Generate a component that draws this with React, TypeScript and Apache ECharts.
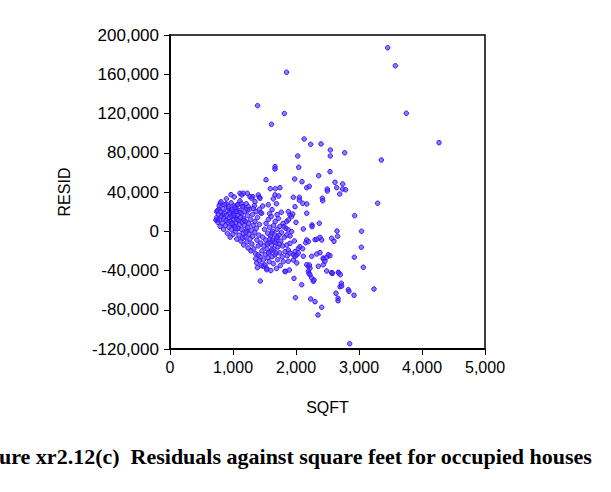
import React, { useEffect, useRef } from "react";
import * as echarts from "echarts";

const xAxisTitle = "SQFT";
const yAxisTitle = "RESID";
const caption = "ure xr2.12(c)  Residuals against square feet for occupied houses";

// [sqft, residual]
const outlierPoints: number[][] = [
  [1850, 162000], [1390, 128000], [1815, 120000], [1610, 109000], [2130, 94000],
  [2233, 88600], [2397, 89000], [2545, 82800], [2545, 76700], [2773, 80000],
  [2027, 76700], [2043, 65200], [1667, 65800], [1667, 63500], [2540, 60700],
  [2360, 56600], [1524, 52500], [1979, 53300], [2095, 50500], [2619, 49900],
  [2741, 48200], [2170, 44400], [2211, 45800], [1746, 44400], [1672, 43400],
  [1592, 43400], [2646, 44400], [2497, 43000], [2497, 41000], [2741, 43000],
  [2788, 42300], [3455, 187000], [3577, 168700], [3751, 120200], [4270, 90300],
  [3355, 72600],
];

const leftClusterPoints: number[][] = [
  [968, 37300], [1111, 38700], [1138, 37000], [1164, 38700], [1227, 38700],
  [1270, 35200], [1313, 35200], [1402, 37000], [1418, 34600], [1296, 33600],
  [1429, 33600], [799, 28500], [889, 27800], [773, 22400], [836, 17300],
  [751, 11500], [741, 20000], [730, 11500], [926, 23400], [979, 20000],
  [1016, 25700], [1058, 21700], [1068, 26700], [1132, 28500], [1164, 25000],
  [1243, 25000], [1227, 21700], [1322, 23400], [1365, 20000], [1418, 22400],
  [1349, 30100], [1471, 25700], [1455, 18300],
  [740, 14000], [750, 21000], [760, 9000], [770, 17000], [780, 26000],
  [785, 12000], [795, 5000], [800, 20000], [810, 30000], [815, 15000],
  [830, 8000], [840, 23000], [850, 2000], [855, 13000], [865, 18000],
  [870, 27000], [880, 6000], [890, 11000], [895, 33000], [900, 16000],
  [910, -2000], [915, 21000], [920, 9000], [930, 25000], [935, 4000],
  [940, 14000], [950, 19000], [955, -6000], [960, 10000], [970, 29000],
  [975, 2000], [980, 15000], [990, 22000], [995, 7000], [1000, -3000],
  [1005, 12000], [1010, 18000], [1020, 35000], [1025, 5000], [1030, 24000],
  [1040, 0], [1045, 14000], [1050, 9000], [1055, 20000], [1060, -8000],
  [1070, 16000], [1075, 27000], [1080, 3000], [1090, 11000], [1095, -4000],
  [1100, 21000], [1105, 7000], [1110, 31000], [1120, 14000], [1125, -10000],
  [1130, 2000], [1140, 18000], [1145, 9000], [1150, 25000], [1160, -2000],
  [1165, 13000], [1170, -14000], [1180, 6000], [1185, 20000], [1190, -6000],
  [1200, 10000], [1210, 28000], [1215, 1000], [1220, -11000], [1230, 16000],
  [1235, 4000], [1240, -17000], [1250, 8000], [1255, -3000], [1260, 22000],
  [1270, -8000], [1280, 12000], [1285, -20000], [1290, 1000], [1300, -13000],
  [1310, 17000], [1315, -5000], [1320, 6000], [1330, -18000], [1340, 26000],
  [1345, -1000], [1350, 10000], [1360, -23000], [1370, 3000], [1380, -9000],
  [1390, 14000], [1400, -15000], [1410, -4000], [1420, 7000], [1430, -26000],
  [1440, 19000], [1015, 16000], [1065, 12000], [985, 8000], [1115, 19000],
  [1175, 11000], [1035, 3000], [1155, -7000], [1205, -1000],
];

const centerClusterPoints: number[][] = [
  [1360, -28000], [1376, -32300], [1386, -37100], [1400, -24000], [1420, -30000],
  [1434, -50700], [1440, -12000], [1450, -35000], [1460, -20000], [1470, -6000],
  [1481, -29300], [1481, -35700], [1490, -15000], [1500, 2000], [1508, -34400],
  [1510, -24000], [1520, -9000], [1525, 8000], [1534, -37700], [1534, -39200],
  [1540, -18000], [1550, -2000], [1555, -27000], [1560, 12000], [1570, -12000],
  [1575, -31000], [1580, 4000], [1590, -21000], [1595, -5000], [1600, -40000],
  [1605, 15000], [1610, -14000], [1620, -26000], [1625, 0], [1630, -9000],
  [1640, -33000], [1645, 6000], [1650, -18000], [1660, -3000], [1665, -24000],
  [1670, 10000], [1680, -12000], [1690, -38000], [1695, -7000], [1700, 2000],
  [1710, -29000], [1715, -16000], [1720, 13000], [1730, -4000], [1740, -22000],
  [1745, 5000], [1750, -35000], [1760, -10000], [1767, 19400], [1770, -1000],
  [1780, -26000], [1790, -15000], [1795, 8000], [1800, -31000], [1809, 4700],
  [1815, -6000], [1825, -20800], [1825, -40800], [1831, -41200], [1841, 3000],
  [1852, -14000], [1852, -3800], [1852, 9800], [1860, -25000], [1878, 1300],
  [1878, -19100], [1878, -30600], [1878, 11500], [1878, 20000], [1894, -39500],
  [1905, -12300], [1905, -4800], [1905, -22200], [1905, 16600], [1931, -400],
  [1931, 14900], [1948, 17600], [1958, -29300], [1958, -23900], [1968, -48000],
  [1974, -9900], [1984, -20800], [1984, -25500], [1984, 25000], [1990, -67700],
  [2000, 9100], [2011, -24200], [2011, -32300], [2037, -17400], [2037, -22200],
  [2063, -15700], [2090, -54500], [2106, -17800], [2116, 2300], [2116, -25500],
  [2154, -11700], [2170, -8900], [2170, -34100], [2170, 18300], [2196, -10600],
  [2196, -40800], [2196, -36100], [2206, -42900], [2211, -34400], [2222, -37700],
  [2222, -44300], [2249, -47600], [2249, -25500], [2254, 6400], [2254, 4700],
  [2275, -51000], [2286, -49700], [2302, -8600], [2302, -71800], [2233, -69000],
  [2329, -8200], [2329, -23200], [2349, -85300], [2354, -35700], [2370, 8100],
  [2381, -6200], [2381, -21800], [2408, -8900], [2408, -77500], [2434, -27300],
  [2434, -34100], [2434, -28300], [2460, -30600], [2487, -26500], [2487, -40500],
  [2513, -23900], [2540, -24900], [2566, -42500], [2577, -42900], [2672, -41800],
  [2830, -59500], [2926, -26500],
  [1560, 27000], [1620, 22000], [1690, 28000], [1700, 17000], [1640, 33000],
  [1580, 18000], [1667, 37000], [1725, 35900], [1958, 34600], [2053, 34600],
  [2053, 31800], [2106, 28500], [2170, 27800], [2418, 33600], [2424, 31100],
  [2693, 37900], [1545, -13000], [1585, -8000], [1615, -19000], [1655, -11000],
  [1685, -22000], [1705, -6000], [1735, -13000], [1615, -2000], [1565, -22000],
];

const rightScatterPoints: number[][] = [
  [2651, 200], [2661, -5100], [2566, -7200], [2603, -10200], [3040, 0],
  [3037, -16300], [2931, 15900], [3296, 28500], [3069, -36700], [2571, -42200],
  [2678, -42500], [2704, -44300], [2720, -53000], [2699, -56500], [2725, -55800],
  [2841, -61200], [2635, -63200], [2921, -65200], [3238, -58900], [2667, -68400],
  [2667, -70800], [2852, -114600],
];

const xTicks = { min: 0, max: 5000, interval: 1000 };
const yTicks = { min: -120000, max: 200000, interval: 40000 };

export default function App() {
  const ref = useRef<HTMLDivElement>(null);
  useEffect(() => {
    if (!ref.current) return;
    const chart = echarts.init(ref.current, null, { renderer: "svg" });
    const data = [
      ...outlierPoints,
      ...leftClusterPoints,
      ...centerClusterPoints,
      ...rightScatterPoints,
    ];
    const fmt = (v: number) => v.toLocaleString("en-US");
    const font = "Liberation Sans, Arial, sans-serif";
    chart.setOption({
      animation: false,
      backgroundColor: "#fff",
      grid: {
        left: 170,
        top: 35,
        width: 315,
        height: 314,
        show: true,
        borderColor: "#000",
        borderWidth: 1.5,
        backgroundColor: "transparent",
      },
      xAxis: {
        type: "value",
        min: xTicks.min,
        max: xTicks.max,
        interval: xTicks.interval,
        name: xAxisTitle,
        nameLocation: "middle",
        nameGap: 50,
        nameTextStyle: { fontFamily: font, fontSize: 16, color: "#000" },
        axisLine: { show: true, onZero: false, lineStyle: { color: "#000", width: 1.8 } },
        axisTick: { show: true, inside: false, length: 6, lineStyle: { color: "#000", width: 1 } },
        axisLabel: { fontFamily: font, fontSize: 16, color: "#000", margin: 10, formatter: fmt },
        splitLine: { show: false },
      },
      yAxis: {
        type: "value",
        min: yTicks.min,
        max: yTicks.max,
        interval: yTicks.interval,
        name: yAxisTitle,
        nameLocation: "middle",
        nameGap: 98,
        nameTextStyle: { fontFamily: font, fontSize: 16, color: "#000" },
        axisLine: { show: true, onZero: false, lineStyle: { color: "#000", width: 1.8 } },
        axisTick: { show: true, inside: false, length: 6, lineStyle: { color: "#000", width: 1 } },
        axisLabel: { fontFamily: font, fontSize: 17, color: "#000", margin: 11, formatter: fmt },
        splitLine: { show: false },
      },
      series: [
        {
          type: "scatter",
          data,
          symbol: "circle",
          symbolSize: 4.5,
          itemStyle: {
            color: "rgba(85,55,255,0.7)",
            borderColor: "#3210ff",
            borderWidth: 1,
            opacity: 0.95,
          },
        },
      ],
      graphic: [
        {
          type: "text",
          left: -1,
          top: 445,
          style: {
            text: caption,
            fontFamily: "Liberation Serif, Times New Roman, serif",
            fontWeight: "bold",
            fontSize: 22,
            fill: "#000",
          },
        },
      ],
    });
    return () => chart.dispose();
  }, []);
  return (
    <div
      ref={ref}
      style={{ position: "fixed", left: 0, top: 0, width: 611, height: 492 }}
    />
  );
}
